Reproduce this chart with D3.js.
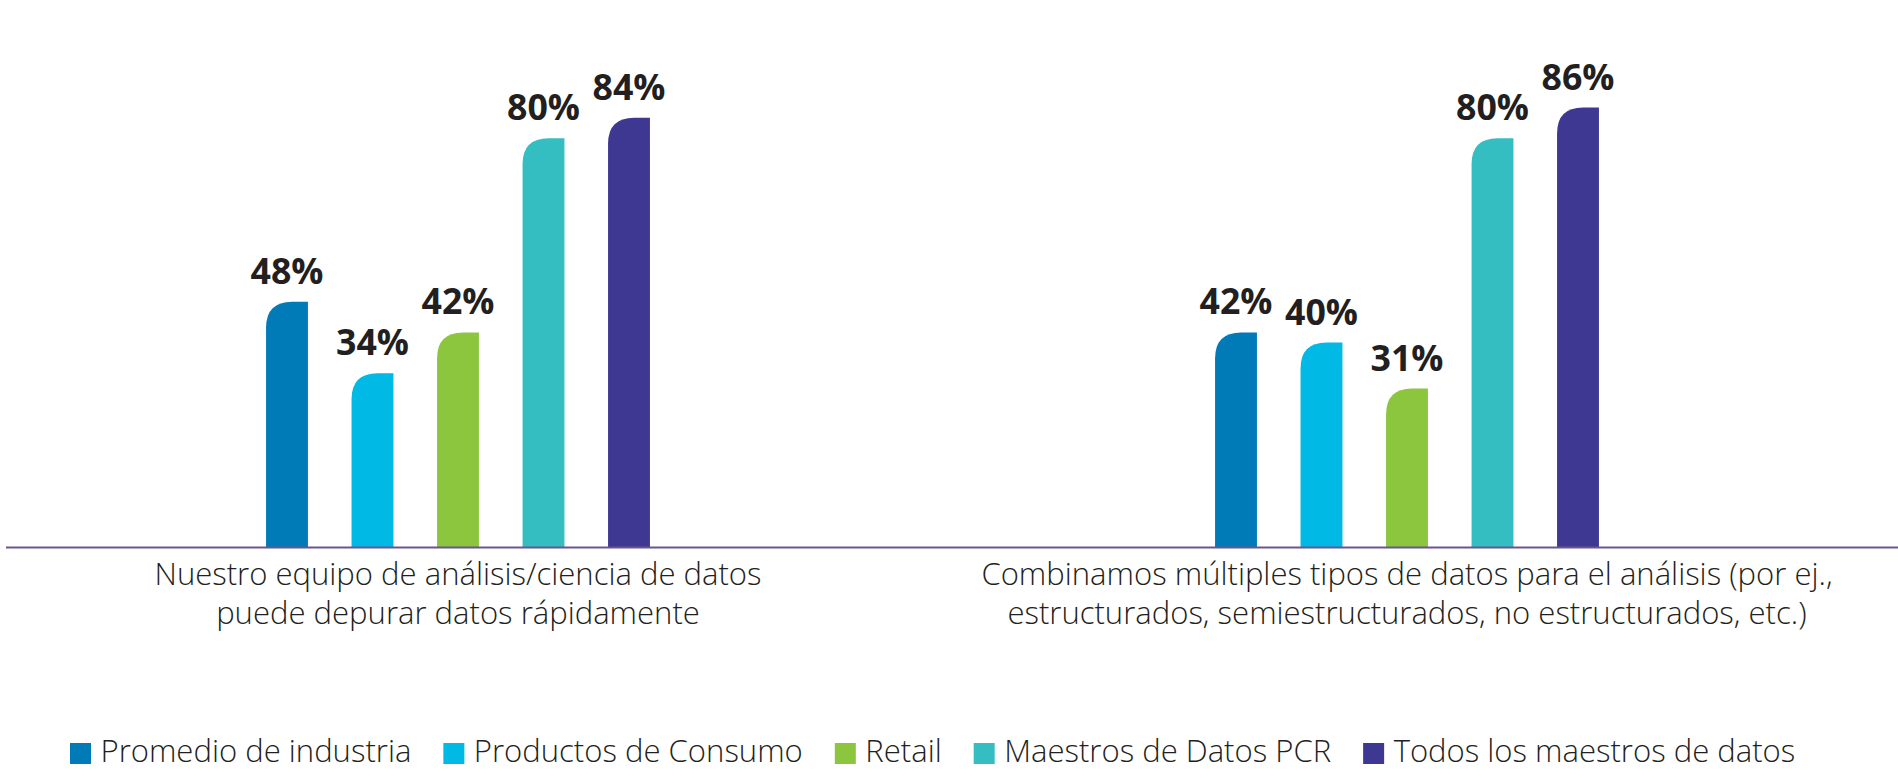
<!DOCTYPE html>
<html><head><meta charset="utf-8">
<script src="https://cdn.jsdelivr.net/npm/d3@7"></script>
<style>body{margin:0;background:#fff;overflow:hidden}</style>
</head><body>
<svg id="c" width="1898" height="783"></svg>
<script>
const categoryLines = [
  ["Nuestro equipo de análisis/ciencia de datos", "puede depurar datos rápidamente"],
  ["Combinamos múltiples tipos de datos para el análisis (por ej.,", "estructurados, semiestructurados, no estructurados, etc.)"]
];
const seriesNames = ["Promedio de industria", "Productos de Consumo", "Retail", "Maestros de Datos PCR", "Todos los maestros de datos"];
const promedioIndustria = [48, 42];
const productosConsumo = [34, 40];
const retail = [42, 31];
const maestrosPCR = [80, 80];
const todosMaestros = [84, 86];
const seriesColors = ["#007bb7", "#00b9e5", "#8cc63f", "#35bec2", "#3e3893"];

const seriesValues = [promedioIndustria, productosConsumo, retail, maestrosPCR, todosMaestros];

const svg = d3.select("#c");
const textFont = "'Open Sans', 'DejaVu Sans', sans-serif";
const textColor = "#231f20";

function measure(str, size, weight) {
  const t = svg.append("text").attr("font-family", textFont).attr("font-size", size)
    .attr("font-weight", weight).text(str);
  const w = t.node().getComputedTextLength();
  t.remove();
  return w;
}
const lightSize = 100 * 311 / measure("Promedio de industria", 100, 300);
const boldSize = 100 * 73 / measure("48%", 100, 700);

const x0 = d3.scaleBand().domain(d3.range(categoryLines.length)).range([-16.5, 1881.5]);
const groupWidth = 427.5;
const x1 = d3.scaleBand().domain(d3.range(seriesNames.length)).range([0, groupWidth])
  .paddingInner(0.51).paddingOuter(0.255);
const y = d3.scaleLinear().domain([0, 100]).range([547, 36]);

function barPath(x, yTop, w, yBase, r) {
  r = Math.min(r, w, yBase - yTop);
  return `M${x},${yBase}V${yTop + r}Q${x},${yTop} ${x + r},${yTop}H${x + w}V${yBase}Z`;
}

const groups = svg.selectAll("g.grp").data(categoryLines).join("g").attr("class", "grp")
  .attr("transform", (d, i) => `translate(${x0(i) + x0.bandwidth() / 2 - groupWidth / 2},0)`);

groups.each(function (d, gi) {
  const g = d3.select(this);
  const data = seriesValues.map((vals, si) => ({ si, v: vals[gi] }));
  g.selectAll("path.bar").data(data).join("path").attr("class", "bar")
    .attr("fill", d => seriesColors[d.si])
    .attr("d", d => barPath(x1(d.si), y(d.v), x1.bandwidth(), y(0), 26));
  g.selectAll("text.val").data(data).join("text").attr("class", "val")
    .attr("x", d => x1(d.si) + x1.bandwidth() / 2)
    .attr("y", d => y(d.v) - 18)
    .attr("text-anchor", "middle")
    .attr("font-family", textFont).attr("font-weight", 700).attr("font-size", boldSize)
    .attr("fill", textColor)
    .text(d => d.v + "%");
});

// axis baseline
svg.append("line").attr("x1", 6).attr("x2", 1898).attr("y1", y(0) + 0.5).attr("y2", y(0) + 0.5)
  .attr("stroke", "#6b5590").attr("stroke-width", 2);

// category labels (one text per line)
categoryLines.forEach((lines, i) => {
  lines.forEach((ln, k) => {
    svg.append("text").attr("text-anchor", "middle")
      .attr("x", x0(i) + x0.bandwidth() / 2).attr("y", 585 + k * 39)
      .attr("font-family", textFont).attr("font-weight", 300).attr("font-size", lightSize)
      .attr("fill", textColor).text(ln);
  });
});

// legend
let lx = 70;
seriesNames.forEach((name, i) => {
  svg.append("rect").attr("x", lx).attr("y", 743).attr("width", 21).attr("height", 21)
    .attr("fill", seriesColors[i]);
  const t = svg.append("text").attr("x", lx + 30.5).attr("y", 762)
    .attr("font-family", textFont).attr("font-weight", 300).attr("font-size", lightSize)
    .attr("fill", textColor).text(name);
  lx = lx + 30.5 + t.node().getComputedTextLength() + 32;
});
</script>
</body></html>
